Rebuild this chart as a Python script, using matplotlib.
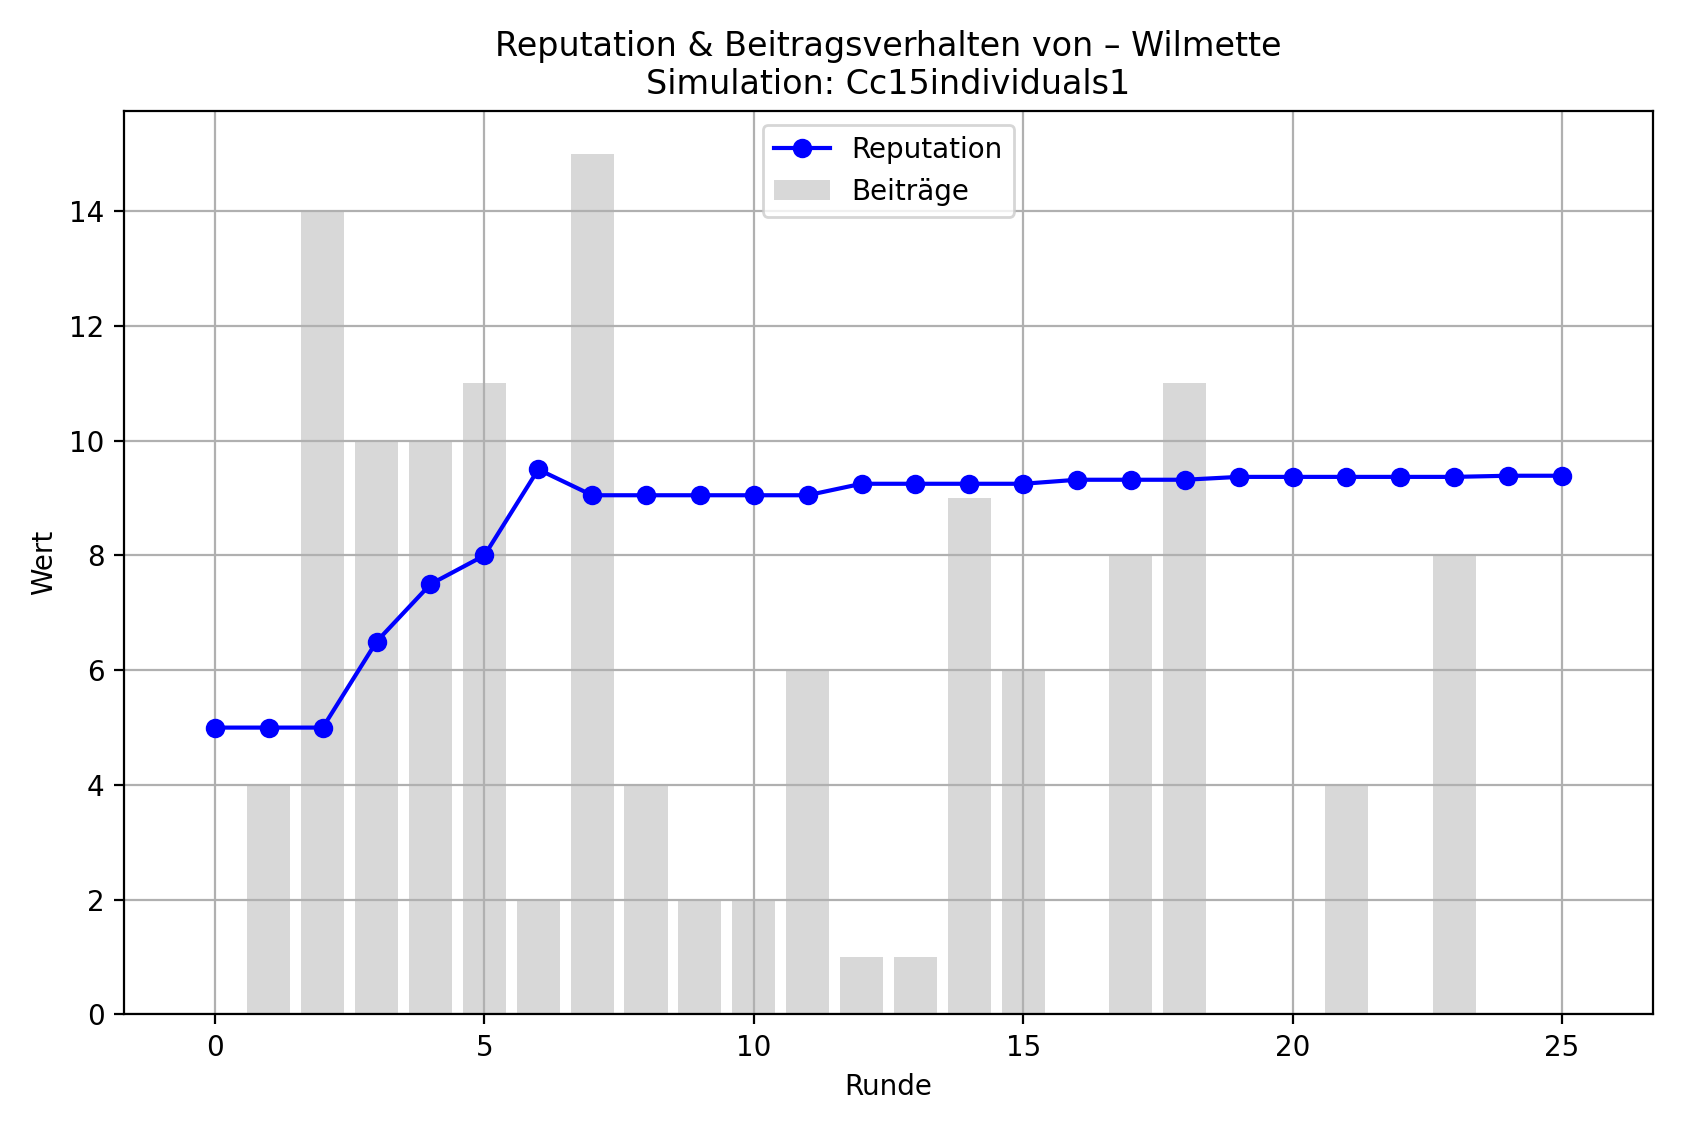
import matplotlib
matplotlib.use("Agg")
import matplotlib.pyplot as plt

rounds = list(range(26))
reputation = [5, 5, 5, 6.5, 7.5, 8, 9.5, 9.05, 9.05, 9.05, 9.05, 9.05, 9.25, 9.25, 9.25, 9.25,
              9.32, 9.32, 9.32, 9.37, 9.37, 9.37, 9.37, 9.37, 9.39, 9.39]
contributions = [0, 4, 14, 10, 10, 11, 2, 15, 4, 2, 2, 6, 1, 1, 9, 6, 0, 8, 11, 0, 0, 4, 0, 8, 0, 0]

fig, ax = plt.subplots(figsize=(1683/200, 1131/200), dpi=200)
ax.plot(rounds, reputation, marker='o', color='blue', label='Reputation')
ax.bar(rounds, contributions, color='gray', alpha=0.3, label='Beiträge')
ax.set_xlabel('Runde')
ax.set_ylabel('Wert')
ax.set_title('Reputation & Beitragsverhalten von – Wilmette\nSimulation: Cc15individuals1')
ax.grid(True)
ax.legend(loc='upper center')
fig.tight_layout()
fig.savefig('out.png', dpi=200)
